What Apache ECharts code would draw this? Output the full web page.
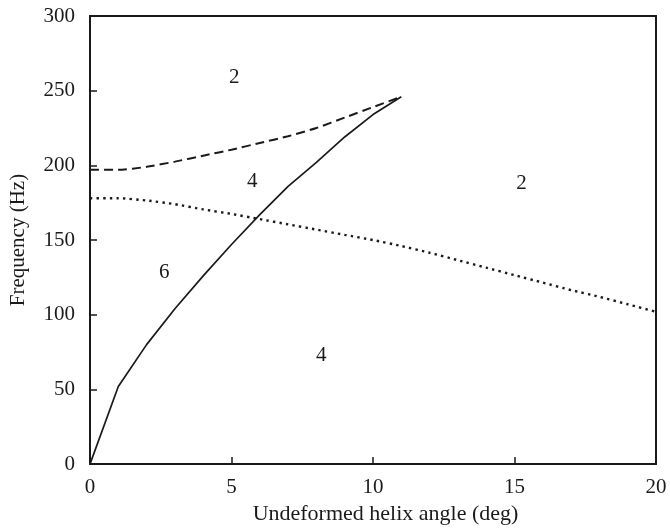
<!DOCTYPE html>
<html>
<head>
<meta charset="utf-8">
<script src="https://cdn.jsdelivr.net/npm/echarts@6/dist/echarts.min.js"></script>
<style>
  html, body { margin: 0; padding: 0; background: #fff; }
  #chart { width: 670px; height: 530px; }
</style>
</head>
<body>
<div id="chart"></div>
<script>
// Helix angle samples (deg)
const solidAngles = [0, 1, 2, 3, 4, 5, 6, 7, 8, 9, 10, 11];
const solidFreq = [0, 52, 80, 104, 126, 147, 167, 186, 202, 219, 234, 246];

const dashedAngles = [0, 1, 2, 3, 4, 5, 6, 7, 8, 9, 10, 11];
const dashedFreq = [197, 197, 199, 202.5, 206.5, 210.5, 215, 219.5, 225, 232, 239, 246];

const dottedAngles = [0, 1, 2, 3, 4, 5, 6, 7, 8, 9, 10, 11, 12, 13, 14, 15, 16, 17, 18, 19, 20];
const dottedFreq = [178, 178, 176.5, 174, 170.5, 167.5, 164, 160.5, 157, 153.5, 150, 146, 141.5, 136.5, 131.5, 126.5, 121.5, 116.5, 112, 107, 102];

// Region annotations (number of modes)
const regionText = ['2', '4', '2', '6', '4'];
const regionAngle = [5.1, 5.73, 15.25, 2.62, 8.17];
const regionFreq = [259, 189, 188, 128, 73];

const pairs = (xs, ys) => xs.map((x, i) => [x, ys[i]]);

const FONT = 'Liberation Serif';
const INK = '#1a1a1a';

const chart = echarts.init(document.getElementById('chart'));
chart.setOption({
  animation: false,
  backgroundColor: '#ffffff',
  grid: {
    left: 88, right: 14, top: 16, bottom: 65,
    show: true, borderColor: INK, borderWidth: 2, backgroundColor: 'transparent'
  },
  xAxis: {
    type: 'value', min: 0, max: 20, interval: 5,
    name: 'Undeformed helix angle (deg)',
    nameLocation: 'middle', nameGap: 37,
    nameTextStyle: { fontFamily: FONT, fontSize: 22, color: INK, padding: [0, 0, 0, 25] },
    axisLine: { show: true, lineStyle: { color: INK, width: 2 } },
    axisTick: { show: true, inside: true, length: 7, lineStyle: { color: INK, width: 1.5 } },
    axisLabel: { fontFamily: FONT, fontSize: 21, color: INK, margin: 13 },
    splitLine: { show: false }
  },
  yAxis: {
    type: 'value', min: 0, max: 300, interval: 50,
    name: 'Frequency (Hz)',
    nameLocation: 'middle', nameGap: 61,
    nameTextStyle: { fontFamily: FONT, fontSize: 21, color: INK },
    axisLine: { show: true, lineStyle: { color: INK, width: 2 } },
    axisTick: { show: true, inside: true, length: 7, lineStyle: { color: INK, width: 1.5 } },
    axisLabel: { fontFamily: FONT, fontSize: 21, color: INK, margin: 15 },
    splitLine: { show: false }
  },
  series: [
    {
      type: 'line', data: pairs(solidAngles, solidFreq),
      showSymbol: false, symbol: 'none',
      lineStyle: { color: INK, width: 1.7, type: 'solid' }
    },
    {
      type: 'line', data: pairs(dashedAngles, dashedFreq),
      showSymbol: false, symbol: 'none', smooth: 0.2,
      lineStyle: { color: INK, width: 2, type: [9, 5] }
    },
    {
      type: 'line', data: pairs(dottedAngles, dottedFreq),
      showSymbol: false, symbol: 'none', smooth: 0.2,
      lineStyle: { color: INK, width: 2.4, type: [2.4, 4.2] }
    },
    {
      type: 'scatter', symbolSize: 0,
      itemStyle: { opacity: 1 },
      data: regionText.map((t, i) => ({ name: t, value: [regionAngle[i], regionFreq[i]] })),
      label: {
        show: true, position: 'inside', formatter: '{b}', opacity: 1,
        fontFamily: FONT, fontSize: 21, color: INK, textBorderWidth: 0
      }
    }
  ]
});
</script>
</body>
</html>
